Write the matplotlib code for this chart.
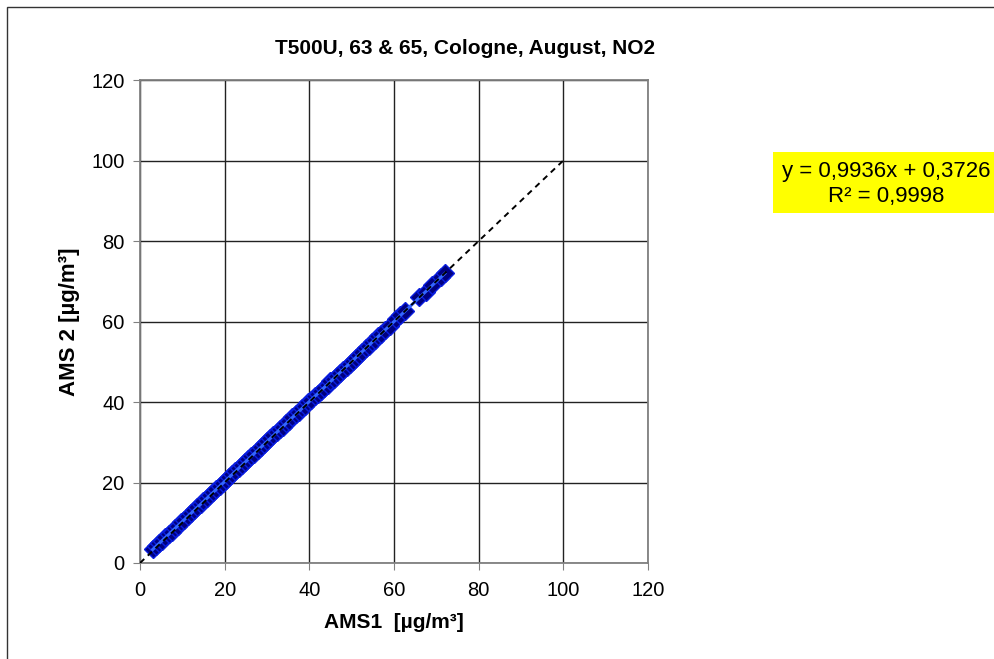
import matplotlib.pyplot as plt
from matplotlib.patches import Rectangle

plt.rcParams['font.family'] = ['Liberation Sans', 'DejaVu Sans']

# AMS1 vs AMS2, NO2 hourly values
ams1 = [3.0, 3.8, 4.5, 5.2, 6.0, 6.8, 7.5, 8.3, 9.0, 9.8, 10.5, 11.3, 12.0, 12.8,
        13.5, 14.3, 15.0, 15.8, 16.5, 17.3, 18.0, 18.8, 19.5, 20.3, 21.0, 21.8,
        22.5, 23.3, 24.0, 24.8, 25.5, 26.3, 27.0, 27.8, 28.5, 29.3, 30.0, 30.8,
        31.5, 32.3, 33.0, 33.8, 34.5, 35.3, 36.0, 36.8, 37.5, 38.3, 39.0, 39.8,
        40.5, 41.3, 42.0, 42.8, 43.5, 44.3, 45.0, 45.8, 46.5, 47.3, 48.0, 48.8,
        49.5, 50.3, 51.0, 51.8, 52.5, 53.3, 54.0, 54.8, 55.5, 56.3, 57.0, 57.8,
        59.0, 60.5, 61.5, 62.5, 66.0, 67.5, 69.0, 71.0, 72.0]
ams2 = [3.4, 4.1, 4.9, 5.5, 6.4, 7.1, 7.8, 8.6, 9.3, 10.2, 10.8, 11.6, 12.3, 13.1,
        13.8, 14.6, 15.3, 16.1, 16.8, 17.6, 18.3, 19.1, 19.8, 20.5, 21.3, 22.0,
        22.8, 23.5, 24.3, 25.0, 25.8, 26.5, 27.2, 28.0, 28.7, 29.5, 30.2, 31.0,
        31.7, 32.5, 33.2, 33.9, 34.7, 35.4, 36.2, 36.9, 37.6, 38.4, 39.1, 39.9,
        40.6, 41.4, 42.1, 42.8, 43.6, 44.3, 45.1, 45.8, 46.5, 47.3, 48.0, 48.8,
        49.5, 50.3, 51.0, 51.8, 52.5, 53.3, 54.0, 54.8, 55.5, 56.3, 57.0, 57.8,
        59.0, 60.5, 61.5, 62.6, 66.0, 67.4, 69.0, 71.0, 72.0]

slope = 0.9936
intercept = 0.3726
r2 = 0.9998
ticks = [0, 20, 40, 60, 80, 100, 120]

fig = plt.figure(figsize=(9.95, 6.59), dpi=100)
# chart area border
fig.patches.append(Rectangle((7 / 995, -0.1), 1.2, 1 - 7 / 659 + 0.1,
                             transform=fig.transFigure, fill=False,
                             edgecolor='#333333', lw=1))

ax = fig.add_axes([140 / 995, 96 / 659, 508 / 995, 483 / 659])
ax.set_xlim(0, 120)
ax.set_ylim(0, 120)
ax.set_xticks(ticks)
ax.set_yticks(ticks)
ax.grid(True, color='#222222', lw=1)
ax.set_axisbelow(True)
for s in ax.spines.values():
    s.set_color('#808080')
    s.set_linewidth(1.3)
ax.tick_params(direction='out', length=5, color='#808080', labelsize=14.5)
ax.tick_params(axis='x', pad=8)
ax.tick_params(axis='y', pad=6)

ax.plot(ams1, ams2, linestyle='none', marker='D', markersize=9,
        color='#000080', markeredgecolor='#0a1ee0', markeredgewidth=1.0,
        zorder=3)

# trend line
x0, x1 = min(ams1), max(ams1)
ax.plot([x0, x1], [slope * x0 + intercept, slope * x1 + intercept],
        color='#3366ff', lw=2.2, zorder=4)
# 1:1 line
ax.plot([0, 100], [0, 100], color='black', lw=1.4, ls=(0, (3, 2.5)), zorder=5)

ax.set_title('T500U, 63 & 65, Cologne, August, NO2', fontsize=15,
             fontweight='bold', pad=19, x=0.64)
ax.set_xlabel('AMS1  [µg/m³]', fontsize=15, fontweight='bold', labelpad=9)
ax.set_ylabel('AMS 2 [µg/m³]', fontsize=16, fontweight='bold', labelpad=8)

txt = 'y = %sx + %s\nR² = %s' % (str(slope).replace('.', ','),
                                  str(intercept).replace('.', ','),
                                  str(r2).replace('.', ','))
fig.text(886 / 995, 1 - 184 / 659, txt, ha='center', va='center',
         fontsize=16, linespacing=1.2, zorder=2)
fig.patches.append(Rectangle((773 / 995, 1 - 213 / 659), 0.3, 61 / 659,
                             transform=fig.transFigure, facecolor='#ffff00',
                             edgecolor='none', zorder=1))

fig.savefig('out.png', dpi=100)
